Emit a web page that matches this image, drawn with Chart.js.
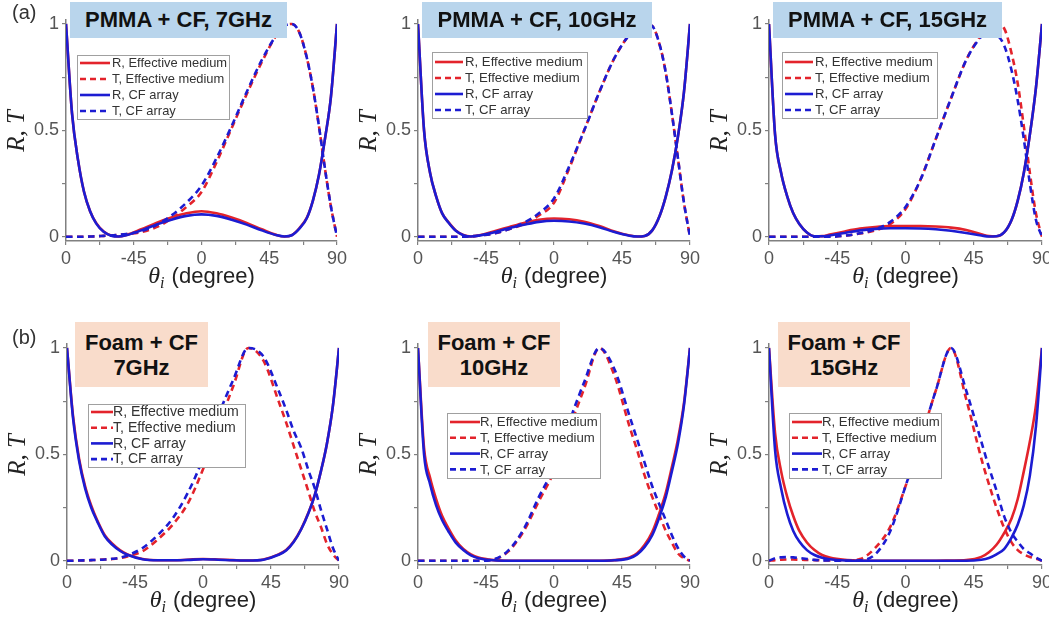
<!DOCTYPE html>
<html>
<head>
<meta charset="utf-8">
<script src="https://cdn.jsdelivr.net/npm/chart.js@4"></script>
<style>
    body { margin: 0; background: #fff; }
    #wrap { position: relative; width: 1049px; height: 624px; overflow: hidden; background: #fff; }
    canvas { position: absolute; }
    .tag { position: absolute; font: bold 22px "Liberation Sans", Arial, sans-serif; color: #111;
           text-align: center; z-index: 2; }
    .blue { background: #b9d5ec; height: 36px; line-height: 36px; top: 2px; }
    .peach { background: #f9dccb; height: 65px; line-height: 25px; top: 322px; padding-top: 8px; box-sizing: border-box; }
    .letter { position: absolute; font: 20px "Liberation Sans", Arial, sans-serif; color: #333; z-index: 2; }
</style>
</head>
<body>
<div id="wrap">
    <div class="letter" style="left:12px; top:1px;">(a)</div>
    <div class="letter" style="left:12px; top:326px;">(b)</div>
</div>

<script>
/* ==========================================
   Data
   ========================================== */

// incidence angle samples (degree)
const angles = [-90, -86, -82, -78, -74, -70, -65, -60, -55, -50, -40, -30, -20, -10, 0,
                10, 20, 30, 40, 50, 55, 60, 65, 70, 74, 78, 82, 86, 90];

const xTickValues = [-90, -45, 0, 45, 90];
const xTickLabels = ["0", "-45", "0", "45", "90"];
const yTickValues = [0, 0.5, 1];
const yTickLabels = ["0", "0.5", "1"];

const legendLabels = ["R, Effective medium", "T, Effective medium", "R, CF array", "T, CF array"];

// PMMA + CF, 7GHz
const pmma7_R_eff = [1, 0.58, 0.36, 0.21, 0.12, 0.065, 0.025, 0.006, 0.001, 0.008, 0.035, 0.065, 0.09, 0.11, 0.12,
                     0.11, 0.09, 0.065, 0.035, 0.008, 0.001, 0.008, 0.04, 0.09, 0.17, 0.29, 0.46, 0.66, 1];
const pmma7_T_eff = [0, 0, 0, 0, 0.001, 0.002, 0.004, 0.006, 0.009, 0.012, 0.022, 0.045, 0.085, 0.14, 0.21,
                     0.35, 0.51, 0.67, 0.82, 0.95, 0.99, 1.0, 0.96, 0.84, 0.7, 0.52, 0.32, 0.14, 0];
const pmma7_R_cf  = [1, 0.58, 0.36, 0.21, 0.12, 0.063, 0.023, 0.005, 0.001, 0.007, 0.03, 0.057, 0.08, 0.098, 0.105,
                     0.098, 0.08, 0.057, 0.03, 0.007, 0.001, 0.007, 0.038, 0.088, 0.17, 0.29, 0.46, 0.66, 1];
const pmma7_T_cf  = [0, 0, 0, 0, 0.001, 0.002, 0.004, 0.006, 0.009, 0.013, 0.026, 0.055, 0.1, 0.16, 0.24,
                     0.37, 0.52, 0.68, 0.83, 0.95, 0.99, 1.0, 0.96, 0.84, 0.7, 0.52, 0.32, 0.14, 0];

// PMMA + CF, 10GHz
const pmma10_R_eff = [1, 0.5, 0.3, 0.19, 0.11, 0.07, 0.03, 0.008, 0.001, 0.006, 0.025, 0.045, 0.065, 0.08, 0.086,
                      0.082, 0.07, 0.05, 0.025, 0.006, 0.001, 0.004, 0.03, 0.1, 0.19, 0.31, 0.47, 0.68, 1];
const pmma10_T_eff = [0, 0, 0, 0, 0, 0, 0, 0, 0.002, 0.005, 0.015, 0.035, 0.06, 0.1, 0.16,
                      0.32, 0.5, 0.68, 0.84, 0.95, 0.98, 1.0, 0.99, 0.9, 0.77, 0.58, 0.37, 0.16, 0];
const pmma10_R_cf  = [1, 0.5, 0.3, 0.19, 0.11, 0.068, 0.028, 0.007, 0.001, 0.005, 0.02, 0.04, 0.056, 0.07, 0.075,
                      0.072, 0.062, 0.045, 0.022, 0.005, 0.001, 0.004, 0.03, 0.1, 0.19, 0.31, 0.47, 0.68, 1];
const pmma10_T_cf  = [0, 0, 0, 0, 0, 0, 0, 0, 0.002, 0.005, 0.015, 0.035, 0.065, 0.11, 0.18,
                      0.33, 0.5, 0.68, 0.84, 0.95, 0.98, 1.0, 0.99, 0.9, 0.77, 0.58, 0.37, 0.16, 0];

// PMMA + CF, 15GHz
const pmma15_R_eff = [1, 0.48, 0.3, 0.19, 0.11, 0.06, 0.02, 0.002, 0.003, 0.01, 0.025, 0.038, 0.046, 0.05, 0.05,
                      0.05, 0.048, 0.043, 0.032, 0.012, 0.003, 0.002, 0.02, 0.08, 0.17, 0.3, 0.48, 0.7, 1];
const pmma15_T_eff = [0, 0, 0, 0, 0, 0, 0, 0, 0, 0, 0.005, 0.015, 0.03, 0.06, 0.13,
                      0.27, 0.46, 0.65, 0.83, 0.95, 0.99, 1.0, 0.98, 0.86, 0.72, 0.52, 0.3, 0.11, 0];
const pmma15_R_cf  = [1, 0.48, 0.3, 0.19, 0.11, 0.06, 0.02, 0.002, 0.002, 0.006, 0.018, 0.03, 0.037, 0.04, 0.04,
                      0.039, 0.035, 0.028, 0.018, 0.006, 0.001, 0.002, 0.02, 0.08, 0.17, 0.3, 0.48, 0.7, 1];
const pmma15_T_cf  = [0, 0, 0, 0, 0, 0, 0, 0, 0, 0, 0.005, 0.016, 0.035, 0.07, 0.14,
                      0.27, 0.46, 0.65, 0.83, 0.94, 0.96, 0.95, 0.9, 0.78, 0.64, 0.46, 0.25, 0.08, 0];

// Foam + CF, 7GHz
const foam7_R_eff = [1, 0.68, 0.48, 0.35, 0.26, 0.19, 0.12, 0.08, 0.05, 0.03, 0.008, 0.002, 0.002, 0.005, 0.008,
                     0.006, 0.003, 0.001, 0.006, 0.03, 0.05, 0.09, 0.15, 0.23, 0.31, 0.42, 0.55, 0.73, 1];
const foam7_T_eff = [0, 0, 0.001, 0.002, 0.003, 0.004, 0.006, 0.008, 0.012, 0.02, 0.045, 0.1, 0.17, 0.27, 0.43,
                     0.63, 0.82, 1.0, 0.94, 0.75, 0.65, 0.54, 0.43, 0.32, 0.23, 0.16, 0.08, 0.03, 0];
const foam7_R_cf  = [1, 0.67, 0.47, 0.34, 0.25, 0.185, 0.115, 0.075, 0.047, 0.028, 0.007, 0.002, 0.002, 0.004, 0.007,
                     0.005, 0.002, 0.001, 0.005, 0.028, 0.048, 0.088, 0.148, 0.228, 0.31, 0.42, 0.55, 0.73, 1];
const foam7_T_cf  = [0, 0, 0.001, 0.002, 0.003, 0.004, 0.006, 0.009, 0.014, 0.025, 0.06, 0.12, 0.2, 0.32, 0.48,
                     0.68, 0.85, 1.0, 0.96, 0.8, 0.71, 0.61, 0.53, 0.42, 0.34, 0.24, 0.15, 0.06, 0];

// Foam + CF, 10GHz
const foam10_R_eff = [1, 0.53, 0.39, 0.29, 0.21, 0.155, 0.095, 0.055, 0.03, 0.015, 0.003, 0, 0, 0, 0,
                      0, 0, 0, 0.003, 0.015, 0.035, 0.075, 0.135, 0.23, 0.32, 0.44, 0.57, 0.74, 1];
const foam10_T_eff = [0, 0, 0, 0, 0, 0, 0, 0, 0, 0, 0.005, 0.045, 0.14, 0.28, 0.42,
                      0.62, 0.81, 1.0, 0.87, 0.63, 0.52, 0.4, 0.3, 0.21, 0.14, 0.085, 0.035, 0.012, 0];
const foam10_R_cf  = [1, 0.5, 0.36, 0.26, 0.19, 0.14, 0.085, 0.05, 0.025, 0.012, 0.002, 0, 0, 0, 0,
                      0, 0, 0, 0.002, 0.012, 0.03, 0.065, 0.12, 0.21, 0.3, 0.42, 0.55, 0.73, 1];
const foam10_T_cf  = [0, 0, 0, 0, 0, 0, 0, 0, 0, 0, 0.006, 0.05, 0.15, 0.3, 0.44,
                      0.65, 0.84, 1.0, 0.9, 0.68, 0.57, 0.46, 0.35, 0.26, 0.19, 0.12, 0.06, 0.02, 0];

// Foam + CF, 15GHz
const foam15_R_eff = [1, 0.6, 0.42, 0.3, 0.21, 0.14, 0.086, 0.05, 0.027, 0.015, 0.004, 0.001, 0, 0, 0,
                      0, 0, 0.001, 0.003, 0.018, 0.04, 0.075, 0.13, 0.2, 0.29, 0.42, 0.56, 0.73, 1];
const foam15_T_eff = [0, 0.003, 0.005, 0.006, 0.006, 0.005, 0.004, 0.003, 0.002, 0.001, 0.001, 0.008, 0.06, 0.16, 0.35,
                      0.57, 0.8, 1.0, 0.76, 0.48, 0.36, 0.25, 0.155, 0.085, 0.05, 0.03, 0.018, 0.01, 0];
const foam15_R_cf  = [1, 0.52, 0.34, 0.22, 0.14, 0.09, 0.05, 0.027, 0.014, 0.007, 0.001, 0, 0, 0, 0,
                      0, 0, 0, 0, 0.005, 0.013, 0.03, 0.055, 0.11, 0.17, 0.26, 0.4, 0.63, 1];
const foam15_T_cf  = [0, 0.012, 0.016, 0.017, 0.016, 0.013, 0.008, 0.004, 0.002, 0.001, 0, 0.002, 0.03, 0.14, 0.35,
                      0.57, 0.8, 1.0, 0.8, 0.56, 0.44, 0.33, 0.21, 0.13, 0.09, 0.055, 0.035, 0.015, 0];

const panelTitles = ["PMMA + CF, 7GHz", "PMMA + CF, 10GHz", "PMMA + CF, 15GHz",
                     "Foam + CF<br>7GHz", "Foam + CF<br>10GHz", "Foam + CF<br>15GHz"];

/* ==========================================
   Layout
   ========================================== */

const RED = "#e3232b";
const BLUE = "#1c1cd2";
const AXIS_LEFT = 66;      // y axis width inside each canvas
const RIGHT_PAD = 24;
const CANVAS_H = 300;

const panels = [
    { left: 0,   top: 0,   plotW: 271, series: [pmma7_R_eff, pmma7_T_eff, pmma7_R_cf, pmma7_T_cf],
      tag: { cls: "blue", x: 70, w: 217 },
      legend: { dx: 11, top: 55, w: 152, h: 64, first: 8, step: 16, line: 30, textX: 35, font: 12.9 } },
    { left: 352, top: 0,   plotW: 272, series: [pmma10_R_eff, pmma10_T_eff, pmma10_R_cf, pmma10_T_cf],
      tag: { cls: "blue", x: 422, w: 230 },
      legend: { dx: 14, top: 52, w: 155, h: 66, first: 10, step: 16, line: 28, textX: 33, font: 13.2 } },
    { left: 703, top: 0,   plotW: 273, series: [pmma15_R_eff, pmma15_T_eff, pmma15_R_cf, pmma15_T_cf],
      tag: { cls: "blue", x: 773, w: 229 },
      legend: { dx: 13, top: 52, w: 155, h: 66, first: 10, step: 16, line: 28, textX: 33, font: 13.2 } },
    { left: 1,   top: 324, plotW: 272, series: [foam7_R_eff, foam7_T_eff, foam7_R_cf, foam7_T_cf],
      tag: { cls: "peach", x: 75, w: 133 },
      legend: { dx: 21, top: 80, w: 157, h: 63, first: 8, step: 15.7, line: 22, textX: 25, font: 14.1 } },
    { left: 352, top: 324, plotW: 272, series: [foam10_R_eff, foam10_T_eff, foam10_R_cf, foam10_T_cf],
      tag: { cls: "peach", x: 428, w: 132 },
      legend: { dx: 29, top: 89, w: 153, h: 65, first: 9, step: 15.8, line: 30, textX: 33, font: 13.2 } },
    { left: 703, top: 324, plotW: 273, series: [foam15_R_eff, foam15_T_eff, foam15_R_cf, foam15_T_cf],
      tag: { cls: "peach", x: 778, w: 132 },
      legend: { dx: 20, top: 89, w: 152, h: 65, first: 9, step: 15.8, line: 30, textX: 33, font: 13.2 } }
];

// colour / dash for each of the 4 curves (same order as legendLabels)
const curveStyle = [
    { color: RED,  dash: [],        order: 3 },
    { color: RED,  dash: [6.5, 4.5], order: 2 },
    { color: BLUE, dash: [],        order: 1 },
    { color: BLUE, dash: [6.5, 4.5], order: 0 }
];

/* ==========================================
   Overlay drawing (legend + axis titles)
   ========================================== */

function drawLegend(ctx, area, lg) {
    const x = area.left + lg.dx;
    const y = lg.top;
    ctx.save();
    ctx.fillStyle = "#fff";
    ctx.fillRect(x, y, lg.w, lg.h);
    ctx.strokeStyle = "#a0a0a0";
    ctx.lineWidth = 1;
    ctx.strokeRect(x + 0.5, y + 0.5, lg.w, lg.h);

    legendLabels.forEach(function (label, i) {
        const ry = y + lg.first + i * lg.step;
        ctx.strokeStyle = curveStyle[i].color;
        ctx.lineWidth = 2.6;
        ctx.setLineDash(curveStyle[i].dash.length ? [6, 4] : []);
        ctx.beginPath();
        ctx.moveTo(x + 3, ry);
        ctx.lineTo(x + 3 + lg.line, ry);
        ctx.stroke();
        ctx.setLineDash([]);
        ctx.fillStyle = "#333";
        ctx.font = lg.font + 'px "Liberation Sans", Arial, sans-serif';
        ctx.textBaseline = "middle";
        ctx.textAlign = "left";
        ctx.fillText(label, x + lg.textX, ry + 0.5);
    });
    ctx.restore();
}

function drawAxisTitles(ctx, area) {
    ctx.save();
    ctx.fillStyle = "#222";
    ctx.textBaseline = "alphabetic";

    // x title: θ_i (degree)
    const fTheta = 'italic 24px "Liberation Serif", "DejaVu Serif", serif';
    const fSub = 'italic 16px "Liberation Serif", "DejaVu Serif", serif';
    const fText = '22px "Liberation Sans", Arial, sans-serif';
    const tail = " (degree)";
    ctx.font = fTheta; const w1 = ctx.measureText("θ").width;
    ctx.font = fSub;   const w2 = ctx.measureText("i").width + 1;
    ctx.font = fText;  const w3 = ctx.measureText(tail).width;
    let x = (area.left + area.right) / 2 - (w1 + w2 + w3) / 2;
    const base = 283;
    ctx.font = fTheta; ctx.fillText("θ", x, base); x += w1;
    ctx.font = fSub;   ctx.fillText("i", x, base + 5); x += w2;
    ctx.font = fText;  ctx.fillText(tail, x, base);

    // y title: R, T
    ctx.translate(17, 131);
    ctx.rotate(-Math.PI / 2);
    ctx.font = 'italic 25px "Liberation Serif", "DejaVu Serif", serif';
    ctx.textAlign = "center";
    ctx.textBaseline = "middle";
    ctx.fillText("R, T", 0, 0);
    ctx.restore();
}

/* ==========================================
   Build charts
   ========================================== */

const wrap = document.getElementById("wrap");

panels.forEach(function (p, idx) {

    const canvas = document.createElement("canvas");
    const w = AXIS_LEFT + p.plotW + RIGHT_PAD;
    canvas.width = w;
    canvas.height = CANVAS_H;
    canvas.style.left = p.left + "px";
    canvas.style.top = p.top + "px";
    canvas.style.width = w + "px";
    canvas.style.height = CANVAS_H + "px";
    wrap.appendChild(canvas);

    const tag = document.createElement("div");
    tag.className = "tag " + p.tag.cls;
    tag.style.left = p.tag.x + "px";
    tag.style.width = p.tag.w + "px";
    tag.innerHTML = panelTitles[idx];
    wrap.appendChild(tag);

    const datasets = p.series.map(function (vals, i) {
        return {
            label: legendLabels[i],
            data: angles.map(function (a, k) { return { x: a, y: vals[k] }; }),
            borderColor: curveStyle[i].color,
            borderDash: curveStyle[i].dash,
            borderWidth: 2.6,
            pointRadius: 0,
            fill: false,
            cubicInterpolationMode: "monotone",
            order: curveStyle[i].order
        };
    });

    new Chart(canvas, {
        type: "line",
        data: { datasets: datasets },
        options: {
            responsive: false,
            maintainAspectRatio: false,
            animation: false,
            devicePixelRatio: 1,
            layout: { padding: { left: 0, right: RIGHT_PAD, top: 19.7, bottom: 0 } },
            plugins: { legend: { display: false }, tooltip: { enabled: false } },
            scales: {
                x: {
                    type: "linear",
                    min: -90,
                    max: 90,
                    afterFit: function (scale) { scale.height = CANVAS_H - 241; },
                    ticks: {
                        stepSize: 22.5,
                        autoSkip: false,
                        maxRotation: 0,
                        padding: 3,
                        color: "#555",
                        font: { family: '"Liberation Sans", Arial, sans-serif', size: 18 },
                        callback: function (v) {
                            const k = xTickValues.indexOf(v);
                            return k >= 0 ? xTickLabels[k] : "";
                        }
                    },
                    grid: { drawOnChartArea: false, drawTicks: true, tickLength: 4, color: "#808080", lineWidth: 1.2 },
                    border: { display: true, color: "#808080", width: 1.5 }
                },
                y: {
                    min: -0.02,
                    max: 1.02,
                    afterFit: function (scale) { scale.width = AXIS_LEFT; },
                    ticks: {
                        stepSize: 0.25,
                        includeBounds: false,
                        padding: 3,
                        color: "#555",
                        font: { family: '"Liberation Sans", Arial, sans-serif', size: 18 },
                        callback: function (v) {
                            const k = yTickValues.indexOf(v);
                            return k >= 0 ? yTickLabels[k] : "";
                        }
                    },
                    grid: { drawOnChartArea: false, drawTicks: true, tickLength: 4, color: "#808080", lineWidth: 1.2 },
                    border: { display: true, color: "#808080", width: 1.5 }
                }
            }
        },
        plugins: [{
            id: "overlay" + idx,
            afterDatasetsDraw: function (chart) {
                drawLegend(chart.ctx, chart.chartArea, p.legend);
            },
            afterDraw: function (chart) {
                drawAxisTitles(chart.ctx, chart.chartArea);
            }
        }]
    });
});
</script>
</body>
</html>
